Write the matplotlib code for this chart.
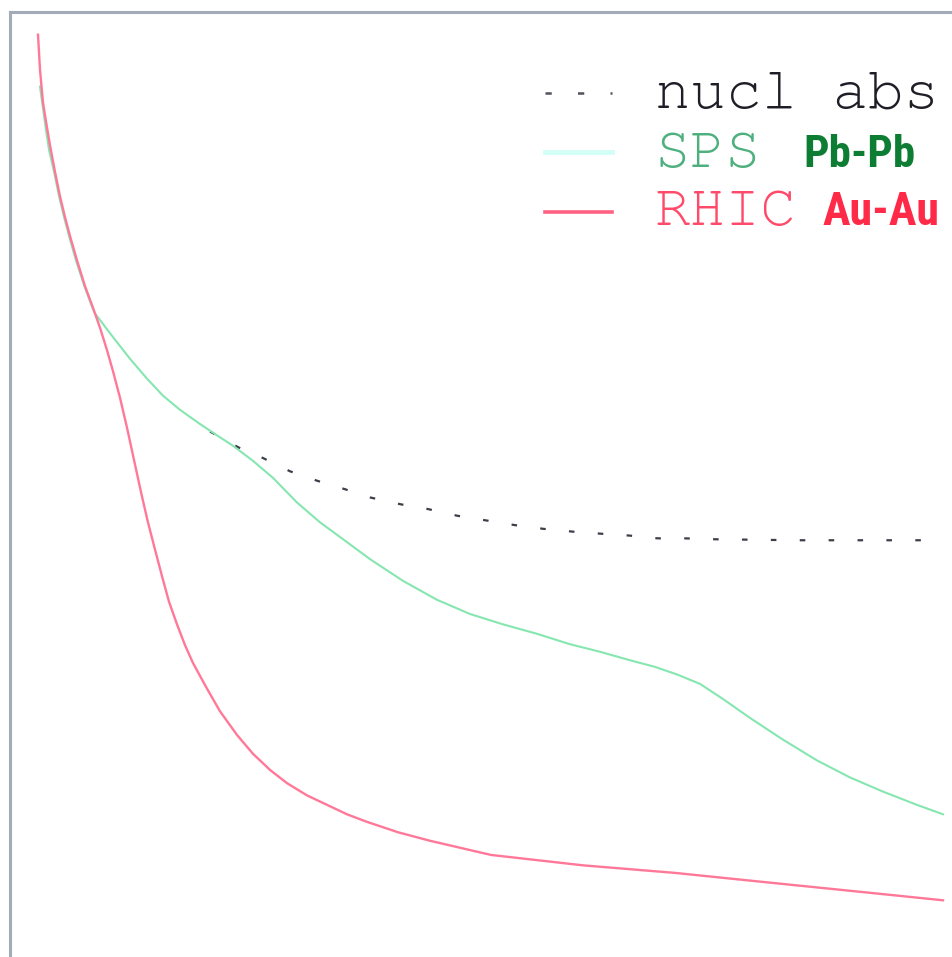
import matplotlib
matplotlib.use("Agg")
import matplotlib.pyplot as plt
from matplotlib import font_manager
from matplotlib.lines import Line2D

# ---- data (time in fm/c, survival probability) ----
rhic_t = [0.297, 0.318, 0.350, 0.392, 0.424, 0.477, 0.530, 0.583, 0.636, 0.711,
          0.795, 0.880, 0.954, 1.029, 1.092, 1.166, 1.241, 1.315, 1.389, 1.463,
          1.538, 1.612, 1.686, 1.771, 1.856, 1.941, 2.089, 2.227, 2.407, 2.577,
          2.757, 2.937, 3.150, 3.362, 3.574, 3.786, 4.115, 4.454, 5.101, 6.076,
          7.052, 8.028, 9.014, 9.894]
rhic_s = [0.976, 0.939, 0.904, 0.878, 0.859, 0.831, 0.805, 0.783, 0.763, 0.737,
          0.710, 0.687, 0.666, 0.642, 0.620, 0.592, 0.560, 0.526, 0.492, 0.460,
          0.431, 0.403, 0.376, 0.352, 0.330, 0.311, 0.284, 0.260, 0.235, 0.215,
          0.198, 0.184, 0.171, 0.161, 0.151, 0.143, 0.132, 0.123, 0.108, 0.097,
          0.089, 0.079, 0.069, 0.060]

sps_t = [0.318, 0.350, 0.382, 0.414, 0.467, 0.520, 0.573, 0.626, 0.700, 0.785,
         0.870, 0.901, 1.092, 1.273, 1.453, 1.622, 1.803, 2.015, 2.195, 2.365,
         2.577, 2.789, 3.043, 3.287, 3.574, 3.818, 4.168, 4.528, 4.878, 5.228,
         5.589, 5.938, 6.257, 6.575, 6.840, 7.073, 7.317, 7.561, 7.847, 8.197,
         8.558, 8.908, 9.258, 9.618, 9.894]
sps_s = [0.921, 0.898, 0.875, 0.854, 0.831, 0.805, 0.783, 0.763, 0.737, 0.711,
         0.688, 0.681, 0.656, 0.633, 0.612, 0.594, 0.579, 0.564, 0.552, 0.541,
         0.525, 0.507, 0.481, 0.460, 0.439, 0.421, 0.398, 0.378, 0.363, 0.352,
         0.342, 0.331, 0.323, 0.314, 0.307, 0.299, 0.289, 0.273, 0.253, 0.230,
         0.208, 0.190, 0.175, 0.161, 0.151]

nucl_t = [2.121, 2.428, 2.683, 2.969, 3.256, 3.553, 3.786, 4.146, 4.433, 4.740,
          5.048, 5.355, 5.663, 5.981, 6.257, 6.564, 6.872, 7.158, 7.497, 8.378, 9.894]
nucl_s = [0.556, 0.539, 0.528, 0.514, 0.504, 0.495, 0.487, 0.479, 0.474, 0.467,
          0.462, 0.457, 0.453, 0.450, 0.448, 0.446, 0.443, 0.443, 0.442, 0.441, 0.441]

labels = ["nucl abs", "SPS", "RHIC"]
systems = ["", "Pb-Pb", "Au-Au"]

# ---- fonts ----
entries = font_manager.fontManager.ttflist
avail = {f.name for f in entries}
mono = "DejaVu Sans Mono"
for cand in ["Nimbus Mono PS", "FreeMono", "Courier New", "Courier",
             "Liberation Mono"]:
    if cand in avail:
        mono = cand
        break
narrow, stretch = "Roboto", "normal"
cond_dejavu = any(f.name == "DejaVu Sans" and str(f.stretch) in
                  ("condensed", "semi-condensed", "75", "87.5") for f in entries)
for cand in ["Liberation Sans Narrow", "Roboto Condensed"]:
    if cand in avail:
        narrow = cand
        break
else:
    if cond_dejavu:
        narrow, stretch = "DejaVu Sans", "condensed"

fig = plt.figure(figsize=(9.53, 9.57), dpi=100)
ax = fig.add_axes([10 / 953, 0.0, 943 / 953, 945 / 957])
ax.set_xlim(0, 10)
ax.set_ylim(0, 1)
ax.set_xticks([])
ax.set_yticks([])
for side in ["right", "bottom"]:
    ax.spines[side].set_visible(False)
for side in ["top", "left"]:
    ax.spines[side].set_color("#a3abb8")
    ax.spines[side].set_linewidth(2.2)

ax.plot(nucl_t, nucl_s, color="#3c3f48", lw=1.6, linestyle=(0, (2.5, 10.5)),
        dash_capstyle="butt", zorder=2)
ax.plot(sps_t, sps_s, color="#86e6b0", lw=1.5, zorder=3,
        solid_joinstyle="round")
ax.plot(rhic_t, rhic_s, color="#ff7898", lw=1.7, zorder=4,
        solid_joinstyle="round")

# ---- legend (manual) ----
hx0, hx1 = 535 / 943, 602 / 943
rows_handle_y = [(957 - 93) / 945, (957 - 152) / 945, (957 - 212) / 945]
rows_base_y = [(957 - 108) / 945, (957 - 167) / 945, (957 - 225) / 945]
handle_styles = [
    dict(color="#50535e", lw=1.8, linestyle=(0, (2.5, 10.5))),
    dict(color="#d2fff6", lw=3.5, linestyle="-"),
    dict(color="#ff6283", lw=2.6, linestyle="-"),
]
text_colors = ["#1e1e26", "#4fb07f", "#ff4a6a"]
sys_colors = ["#000000", "#0d7d34", "#ff2a48"]
sys_x = [0, 803, 823]
sys_w = [0, 112, 117]

fig.canvas.draw()
renderer = fig.canvas.get_renderer()


def fit(txt, width_px):
    w = txt.get_window_extent(renderer).width
    txt.set_fontsize(txt.get_fontsize() * width_px / w)


mono_texts = []
for i in range(3):
    ax.add_line(Line2D([hx0, hx1], [rows_handle_y[i]] * 2, transform=ax.transAxes,
                       **handle_styles[i]))
    t = ax.text(645 / 943, rows_base_y[i], labels[i], transform=ax.transAxes,
                fontfamily=mono, fontsize=41, color=text_colors[i],
                va="baseline", ha="left")
    mono_texts.append(t)
    if systems[i]:
        s = ax.text((sys_x[i] - 10) / 943, rows_base_y[i], systems[i],
                    transform=ax.transAxes, fontfamily=narrow, fontstretch=stretch,
                    fontweight="bold", fontsize=30, color=sys_colors[i],
                    va="baseline", ha="left")
        fit(s, sys_w[i])

fit(mono_texts[0], 284)
for t in mono_texts[1:]:
    t.set_fontsize(mono_texts[0].get_fontsize())

fig.savefig("out.png", dpi=100)
